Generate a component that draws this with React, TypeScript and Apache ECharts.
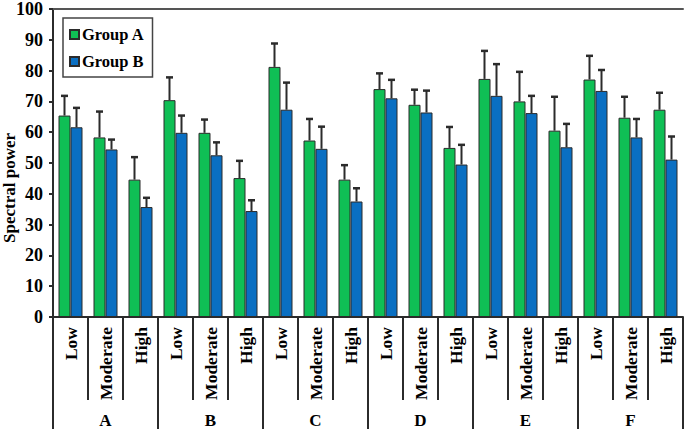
import React, { useEffect, useRef } from "react";
import * as echarts from "echarts";

const levels = ["Low", "Moderate", "High", "Low", "Moderate", "High", "Low", "Moderate", "High", "Low", "Moderate", "High", "Low", "Moderate", "High", "Low", "Moderate", "High"];
const groups = ["A", "B", "C", "D", "E", "F"];
const groupA = [65.4, 58.3, 44.6, 70.4, 59.8, 45.1, 81.2, 57.3, 44.6, 74.0, 68.9, 54.9, 77.3, 70.0, 60.5, 77.1, 64.7, 67.3];
const errA = [6.4, 8.4, 7.3, 7.4, 4.3, 5.6, 7.6, 7.0, 4.7, 5.1, 4.9, 6.8, 9.1, 9.6, 11.0, 7.7, 6.8, 5.5];
const groupB = [61.6, 54.4, 35.7, 59.8, 52.5, 34.4, 67.3, 54.6, 37.5, 71.0, 66.4, 49.5, 71.8, 66.2, 55.1, 73.4, 58.3, 51.1];
const errB = [6.3, 3.2, 3.0, 5.6, 4.2, 3.5, 8.8, 7.2, 4.3, 6.0, 7.1, 6.4, 10.3, 5.6, 7.6, 6.8, 6.0, 7.5];
const yTicks = { min: 0, max: 100, interval: 10 };

const FONT = "'Liberation Serif', 'Times New Roman', serif";
const GREEN = "#0fbf55";
const BLUE = "#0a6fc2";
const DARK = "#2b2b2b";
const BAR_W = 12;

function errorSeries(values: number[], errs: number[], offset: number) {
  return {
    type: "custom",
    xAxisIndex: 0,
    yAxisIndex: 0,
    silent: true,
    z: 5,
    data: values.map((v, i) => [i, v, v + errs[i]]),
    renderItem: (params: any, api: any) => {
      const i = api.value(0);
      const base = api.coord([i, api.value(1)]);
      const top = api.coord([i, api.value(2)]);
      const x = base[0] + offset;
      const cap = 3.5;
      return {
        type: "group",
        children: [
          { type: "line", shape: { x1: x, y1: base[1], x2: x, y2: top[1] }, style: { stroke: DARK, lineWidth: 2 } },
          { type: "line", shape: { x1: x - cap, y1: top[1], x2: x + cap, y2: top[1] }, style: { stroke: DARK, lineWidth: 2.5 } },
        ],
      };
    },
  };
}

export default function App() {
  const ref = useRef<HTMLDivElement>(null);
  useEffect(() => {
    if (!ref.current) return;
    const chart = echarts.init(ref.current, null, { renderer: "svg" });
    chart.setOption({
      animation: false,
      backgroundColor: "#ffffff",
      grid: { left: 53, right: 2, top: 8, bottom: 115, containLabel: false },
      legend: {
        orient: "vertical",
        left: 63,
        top: 18,
        padding: [8, 8, 7, 6],
        itemGap: 10,
        itemWidth: 9,
        itemHeight: 9,
        borderColor: "#444",
        borderWidth: 1.5,
        icon: "rect",
        data: ["Group A", "Group B"],
        textStyle: { fontFamily: FONT, fontWeight: "bold", fontSize: 16.5, color: "#000", padding: [0, 0, 0, -2] },
      },
      xAxis: [
        {
          type: "category",
          data: levels,
          position: "bottom",
          axisLine: { show: true, lineStyle: { color: DARK, width: 2 } },
          axisTick: { show: true, interval: 0, length: 83, lineStyle: { color: DARK, width: 2 } },
          axisLabel: { interval: 0, rotate: 90, margin: 10, fontFamily: FONT, fontWeight: "bold", fontSize: 17.5, color: "#000" },
        },
        {
          type: "category",
          data: groups,
          position: "bottom",
          axisLine: { show: false },
          axisTick: { show: true, interval: 0, length: 112, lineStyle: { color: DARK, width: 2 } },
          axisLabel: { interval: 0, margin: 95, fontFamily: FONT, fontWeight: "bold", fontSize: 17, color: "#000" },
        },
        {
          type: "category",
          data: levels,
          position: "top",
          axisLine: { show: true, lineStyle: { color: "#555", width: 2 } },
          axisTick: { show: false },
          axisLabel: { show: false },
        },
      ],
      yAxis: {
        type: "value",
        min: yTicks.min,
        max: yTicks.max,
        interval: yTicks.interval,
        axisLine: { show: true, lineStyle: { color: DARK, width: 2 } },
        axisTick: { show: true, length: 4, lineStyle: { color: DARK, width: 2 } },
        splitLine: { show: false },
        axisLabel: { margin: 10, fontFamily: FONT, fontWeight: "bold", fontSize: 18, color: "#000" },
      },
      graphic: [
        {
          type: "text",
          x: 9,
          y: 188,
          rotation: Math.PI / 2,
          style: {
            text: "Spectral power",
            fontFamily: FONT,
            fontWeight: "bold",
            fontSize: 17,
            fill: "#000",
            textAlign: "center",
            textVerticalAlign: "middle",
          },
        },
      ],
      series: [
        {
          name: "Group A",
          type: "bar",
          data: groupA,
          barWidth: BAR_W,
          barGap: "0%",
          itemStyle: { color: GREEN, borderColor: DARK, borderWidth: 1 },
        },
        {
          name: "Group B",
          type: "bar",
          data: groupB,
          barWidth: BAR_W,
          barGap: "0%",
          itemStyle: { color: BLUE, borderColor: DARK, borderWidth: 1 },
        },
        errorSeries(groupA, errA, -BAR_W / 2),
        errorSeries(groupB, errB, BAR_W / 2),
      ],
    });
    return () => chart.dispose();
  }, []);
  return <div ref={ref} style={{ position: "fixed", left: 0, top: 0, width: 685, height: 432 }} />;
}
